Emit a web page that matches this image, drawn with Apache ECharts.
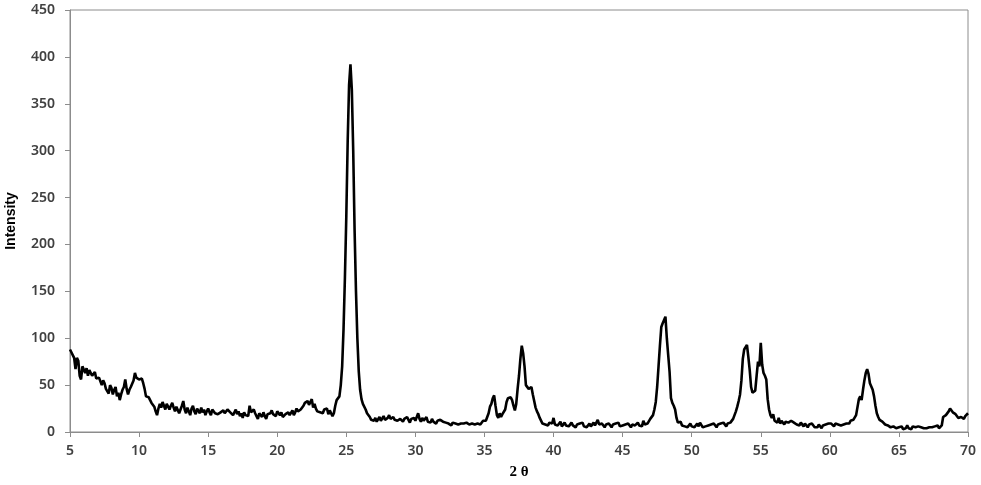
<!DOCTYPE html>
<html>
<head>
<meta charset="utf-8">
<script src="https://cdn.jsdelivr.net/npm/echarts@6/dist/echarts.min.js"></script>
<style>
  html, body { margin: 0; padding: 0; background: #fff; }
  #chart { width: 981px; height: 485px; }
</style>
</head>
<body>
<div id="chart"></div>
<script>
// 2θ scan: starts at 5°, one reading every 0.1°
var thetaStart = 5;
var thetaStep = 0.1;

// intensity readings, one row per degree (x.0 ... x.9)
var intensity = [
  88, 85, 82, 79, 67, 79, 76, 60, 56, 70,   // 5
  70, 63, 68, 60, 66, 64, 60, 58, 64, 57,   // 6
  56, 58, 54, 50, 55, 52, 46, 48, 41, 50,   // 7
  47, 40, 45, 48, 38, 42, 34, 40, 45, 48,   // 8
  56, 46, 40, 45, 48, 50, 55, 63, 58, 58,   // 9
  56, 58, 57, 52, 46, 38, 40, 37, 34, 31,   // 10
  30, 27, 22, 18, 25, 30, 26, 32, 28, 24,   // 11
  30, 27, 24, 28, 31, 26, 22, 27, 25, 20,   // 12
  24, 28, 33, 24, 20, 26, 22, 18, 25, 28,   // 13
  22, 19, 25, 24, 20, 26, 21, 24, 18, 22,   // 14
  25, 21, 18, 24, 26, 20, 22, 19, 17, 21,   // 15
  19, 23, 20, 22, 24, 26, 21, 23, 18, 20,   // 16
  24, 19, 22, 17, 20, 15, 21, 18, 20, 17,   // 17
  28, 21, 19, 24, 20, 17, 14, 20, 18, 16,   // 18
  21, 17, 14, 19, 17, 20, 23, 19, 21, 17,   // 19
  22, 20, 18, 21, 16, 14, 19, 17, 21, 18,   // 20
  20, 23, 18, 21, 25, 22, 20, 24, 26, 28,   // 21
  31, 30, 33, 29, 32, 35, 26, 30, 25, 22,   // 22
  24, 21, 23, 20, 24, 22, 25, 19, 23, 21,   // 23
  17, 20, 28, 34, 36, 38, 50, 70, 110, 165, // 24
  230, 310, 370, 392, 365, 300, 215, 150, 100, 65, // 25
  45, 35, 30, 29, 24, 20, 18, 16, 13, 14,   // 26
  12, 15, 11, 13, 16, 12, 14, 17, 13, 11,   // 27
  15, 18, 14, 12, 16, 13, 15, 12, 11, 14,   // 28
  13, 11, 14, 12, 16, 13, 10, 14, 12, 15,   // 29
  12, 16, 20, 14, 11, 15, 12, 13, 16, 11,   // 30
  12, 10, 14, 11, 13, 9, 12, 10, 13, 14,    // 31
  11, 13, 10, 12, 9, 11, 7, 10, 8, 9,       // 32
  9, 8, 10, 9, 7, 9, 8, 10, 9, 8,           // 33
  7, 9, 11, 8, 10, 9, 11, 8, 10, 12,        // 34
  11, 12, 14, 20, 27, 30, 36, 39, 28, 18,   // 35
  15, 20, 16, 19, 17, 24, 32, 36, 35, 37,   // 36
  34, 28, 23, 30, 46, 60, 78, 92, 84, 70,   // 37
  50, 52, 46, 45, 48, 40, 33, 26, 22, 19,   // 38
  15, 13, 9, 11, 8, 9, 7, 10, 8, 9,         // 39
  15, 8, 10, 7, 9, 11, 6, 8, 10, 7,         // 40
  9, 6, 8, 10, 7, 9, 5, 8, 6, 9,            // 41
  7, 10, 6, 8, 5, 7, 9, 6, 8, 10,           // 42
  7, 9, 13, 8, 6, 9, 7, 5, 8, 6,            // 43
  9, 7, 5, 8, 6, 9, 7, 10, 6, 8,            // 44
  7, 5, 8, 6, 9, 7, 5, 8, 10, 7,            // 45
  8, 10, 7, 9, 6, 12, 8, 10, 9, 11,         // 46
  14, 16, 18, 24, 32, 48, 70, 92, 112, 116, // 47
  118, 123, 100, 82, 64, 36, 31, 28, 24, 15, // 48
  10, 8, 11, 7, 9, 6, 8, 5, 7, 9,           // 49
  6, 8, 5, 7, 9, 6, 10, 8, 5, 7,            // 50
  6, 4, 7, 5, 8, 6, 9, 7, 5, 8,             // 51
  6, 9, 7, 10, 8, 6, 9, 7, 10, 8,           // 52
  14, 18, 22, 27, 33, 40, 55, 78, 88, 90,   // 53
  93, 80, 66, 48, 42, 41, 44, 60, 75, 70,   // 54
  95, 72, 63, 60, 56, 35, 24, 18, 15, 19,   // 55
  12, 14, 10, 15, 9, 12, 10, 8, 11, 9,      // 56
  10, 8, 12, 13, 10, 11, 8, 9, 7, 10,       // 57
  8, 6, 9, 7, 5, 8, 6, 9, 7, 5,             // 58
  7, 5, 8, 6, 4, 7, 5, 8, 6, 9,             // 59
  7, 9, 8, 6, 9, 7, 8, 10, 7, 9,            // 60
  8, 10, 9, 11, 9, 12, 10, 13, 15, 18,      // 61
  20, 35, 38, 34, 45, 55, 63, 67, 62, 52,   // 62
  50, 45, 38, 28, 20, 16, 13, 12, 11, 9,    // 63
  8, 10, 7, 6, 5, 7, 6, 5, 4, 6,            // 64
  5, 4, 6, 3, 5, 4, 7, 4, 5, 3,             // 65
  6, 4, 5, 3, 6, 4, 5, 7, 4, 5,             // 66
  4, 6, 5, 7, 5, 4, 6, 5, 7, 4,             // 67
  5, 7, 16, 14, 18, 20, 22, 25, 24, 21,     // 68
  22, 19, 17, 15, 13, 16, 18, 14, 17, 18,   // 69
  20                                        // 70
];

var xTicks = [5, 10, 15, 20, 25, 30, 35, 40, 45, 50, 55, 60, 65, 70];
var yTicks = [0, 50, 100, 150, 200, 250, 300, 350, 400, 450];

var points = intensity.map(function (v, i) {
  return [+(thetaStart + i * thetaStep).toFixed(1), v];
});

var tickFont = { fontFamily: 'Noto Sans', fontWeight: 600, fontSize: 14, color: '#404040' };

var chart = echarts.init(document.getElementById('chart'));
chart.setOption({
  animation: false,
  grid: {
    left: 70, right: 13, top: 10, bottom: 53,
    outerBoundsMode: 'none',
    containLabel: false,
    show: true, borderColor: '#8c8c8c', borderWidth: 1
  },
  xAxis: {
    type: 'value',
    min: xTicks[0], max: xTicks[xTicks.length - 1], interval: 5,
    name: '2 θ',
    nameLocation: 'middle',
    nameGap: 33,
    nameTextStyle: { fontFamily: 'Liberation Serif', fontWeight: 'bold', fontSize: 15, color: '#000' },
    axisLine: { lineStyle: { color: '#8c8c8c', width: 1 } },
    axisTick: { show: true, length: 5, lineStyle: { color: '#8c8c8c' } },
    axisLabel: Object.assign({ margin: 12 }, tickFont),
    splitLine: { show: false }
  },
  yAxis: {
    type: 'value',
    min: yTicks[0], max: yTicks[yTicks.length - 1], interval: 50,
    name: 'Intensity',
    nameLocation: 'middle',
    nameGap: 52,
    nameTextStyle: { fontFamily: 'Liberation Sans', fontWeight: 'bold', fontSize: 14, color: '#000' },
    axisLine: { show: true, lineStyle: { color: '#8c8c8c', width: 1 } },
    axisTick: { show: true, length: 5, lineStyle: { color: '#8c8c8c' } },
    axisLabel: Object.assign({ margin: 15 }, tickFont),
    splitLine: { show: false }
  },
  series: [{
    type: 'line',
    data: points,
    showSymbol: false,
    smooth: false,
    lineStyle: { color: '#000', width: 2.6 },
    z: 3
  }]
});
</script>
</body>
</html>
